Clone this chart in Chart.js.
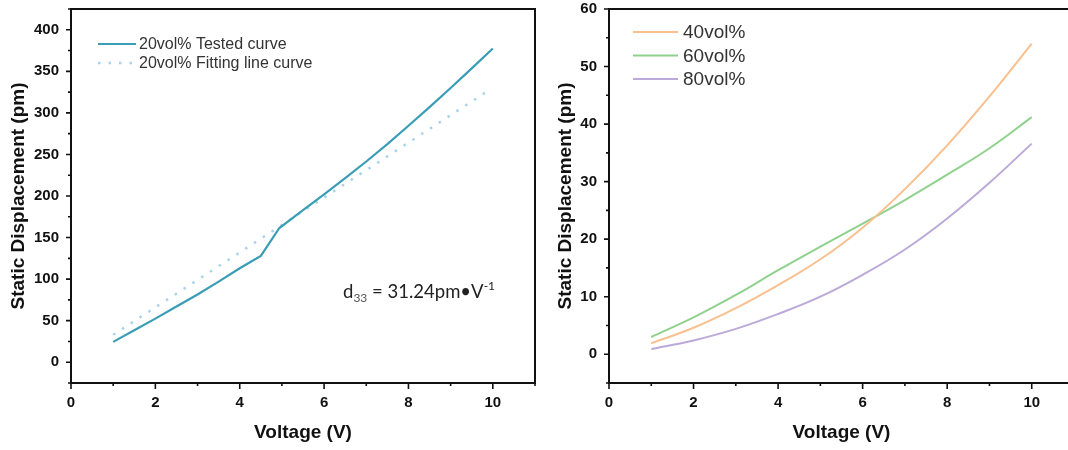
<!DOCTYPE html>
<html>
<head>
<meta charset="utf-8">
<script src="https://cdn.jsdelivr.net/npm/chart.js@4.4.1/dist/chart.umd.min.js"></script>
<style>
  html, body { margin: 0; padding: 0; background: #fff; overflow: hidden; width: 1068px; height: 450px; }
  .panel { position: absolute; top: 0; width: 540px; height: 450px; }
  #d33 { position: absolute; left: 343px; top: 280px; font-family: Lato, "Open Sans", sans-serif; font-size: 18.5px; color: #222; white-space: nowrap; line-height: 1; }
  #d33 sub { font-size: 12px; color: #555; vertical-align: -4px; }
  #d33 sup { font-size: 12px; vertical-align: 8px; }
</style>
</head>
<body>
<div class="panel" style="left:0"><canvas id="left" width="540" height="450"></canvas></div>
<div class="panel" style="left:540px"><canvas id="right" width="540" height="450"></canvas></div>
<div id="d33">d<sub>33</sub> = 31.24pm&bull;V<sup>-1</sup></div>
<script>
// left panel: 20vol%
var volt_20 = [1, 1.5, 2, 2.5, 3, 3.5, 4, 4.5, 4.94, 5.5, 6, 6.5, 7, 7.5, 8, 8.5, 9, 9.5, 10];
var tested_20 = [24.5, 38.5, 52.5, 67, 81.5, 97, 113, 128, 161.5, 183, 202, 221.5, 241.5, 262.5, 284.5, 307, 330, 353.5, 377.5];
var fit_volt = [1, 9.9];
var fit_20 = [33, 327];

// right panel: 40/60/80vol%
var volt = [1, 2, 3, 4, 5, 6, 7, 8, 9, 10];
var vol_40 = [1.9, 4.6, 8, 12, 16.5, 22, 28.7, 36.3, 44.8, 54];
var vol_60 = [3, 6.4, 10.3, 14.6, 18.7, 22.7, 26.8, 31.2, 35.8, 41.2];
var vol_80 = [0.9, 2.4, 4.4, 7, 10, 13.8, 18.2, 23.6, 29.8, 36.6];

var FONT = "'Liberation Sans', Arial, sans-serif";

function pts(xs, ys) {
  return xs.map(function(v, i) { return {x: v, y: ys[i]}; });
}

// box round the plot area plus major/minor tick marks
var frame = {
  id: 'frame',
  afterDraw: function(chart) {
    var ctx = chart.ctx, a = chart.chartArea;
    var x = chart.scales.x, y = chart.scales.y;
    var ystep = chart.options.scales.y.ticks.stepSize;
    ctx.save();
    ctx.strokeStyle = '#111';
    ctx.lineWidth = 2;
    ctx.strokeRect(a.left, a.top, a.right - a.left, a.bottom - a.top);
    ctx.lineWidth = 1.6;
    ctx.beginPath();
    x.ticks.forEach(function(t) {
      var px = x.getPixelForValue(t.value);
      var len = t.value % 2 === 0 ? 6 : 3;
      ctx.moveTo(px, a.bottom);
      ctx.lineTo(px, a.bottom + len);
    });
    y.ticks.forEach(function(t) {
      var py = y.getPixelForValue(t.value);
      var len = t.value % (2 * ystep) === 0 ? 5 : 3;
      ctx.moveTo(a.left, py);
      ctx.lineTo(a.left - len, py);
    });
    ctx.stroke();
    ctx.restore();
  }
};

// legend drawn inside the plot area
var inlineLegend = {
  id: 'inlineLegend',
  afterDatasetsDraw: function(chart, args, o) {
    var ctx = chart.ctx;
    ctx.save();
    ctx.font = o.font;
    ctx.textBaseline = 'middle';
    ctx.fillStyle = '#333';
    chart.data.datasets.forEach(function(ds, i) {
      var yy = o.y + i * o.row;
      ctx.strokeStyle = ds.borderColor;
      ctx.lineWidth = ds.borderWidth;
      ctx.setLineDash(ds.borderDash || []);
      ctx.beginPath();
      ctx.moveTo(o.x, yy);
      ctx.lineTo(o.x + o.len, yy);
      ctx.stroke();
      ctx.setLineDash([]);
      ctx.fillText(ds.label, o.x + o.len + o.gap, yy + 1);
    });
    ctx.restore();
  }
};

function makeOptions(ymin, ymax, ystep, axisW, padRight, titlePad, legend) {
  return {
    responsive: false,
    animation: false,
    events: [],
    layout: { padding: { top: 9, right: padRight, left: 0, bottom: 0 } },
    elements: { point: { radius: 0 } },
    plugins: {
      legend: { display: false },
      tooltip: { enabled: false },
      inlineLegend: legend
    },
    scales: {
      x: {
        type: 'linear', min: 0, max: 11,
        grid: { display: false, drawTicks: false },
        border: { display: false },
        afterFit: function(s) { s.height = 67; s.paddingLeft = 0; s.paddingRight = 0; },
        ticks: {
          stepSize: 1, includeBounds: false, autoSkip: false, maxTicksLimit: 100, padding: 11, color: '#111', maxRotation: 0,
          font: { family: FONT, size: 15, weight: 'bold' },
          callback: function(v) { return v % 2 === 0 && v <= 10 ? String(v) : ''; }
        },
        title: {
          display: true, text: 'Voltage (V)', color: '#111',
          font: { family: FONT, size: 19, weight: 'bold' },
          padding: { top: 0, bottom: 6 }
        }
      },
      y: {
        type: 'linear', min: ymin, max: ymax,
        grid: { display: false, drawTicks: false },
        border: { display: false },
        afterFit: function(s) { s.width = axisW; s.paddingTop = 0; s.paddingBottom = 0; },
        ticks: {
          stepSize: ystep, includeBounds: false, autoSkip: false, maxTicksLimit: 100, padding: 12, color: '#111',
          font: { family: FONT, size: 15, weight: 'bold' },
          callback: function(v) { return v % (2 * ystep) === 0 && v >= 0 ? String(v) : ''; }
        },
        title: {
          display: true, text: 'Static Displacement (pm)', color: '#111',
          font: { family: FONT, size: 19, weight: 'bold' },
          padding: { top: titlePad, bottom: 0 }
        }
      }
    }
  };
}

new Chart(document.getElementById('left'), {
  type: 'line',
  data: {
    datasets: [
      { label: '20vol% Tested curve', data: pts(volt_20, tested_20), borderColor: '#3a9db6', borderWidth: 2.2, tension: 0, fill: false },
      { label: '20vol% Fitting line curve', data: pts(fit_volt, fit_20), borderColor: '#a8d3e8', borderWidth: 2.5, borderDash: [2.5, 8], tension: 0, fill: false }
    ]
  },
  options: makeOptions(-25, 425, 25, 71, 5, 7, { x: 98, len: 38, gap: 3, y: 44, row: 19, font: '16px ' + FONT }),
  plugins: [frame, inlineLegend]
});

new Chart(document.getElementById('right'), {
  type: 'line',
  data: {
    datasets: [
      { label: '40vol%', data: pts(volt, vol_40), borderColor: '#f9c08f', borderWidth: 2, tension: 0.4, fill: false },
      { label: '60vol%', data: pts(volt, vol_60), borderColor: '#90d18e', borderWidth: 2, tension: 0.4, fill: false },
      { label: '80vol%', data: pts(volt, vol_80), borderColor: '#bbaad9', borderWidth: 2, tension: 0.4, fill: false }
    ]
  },
  options: makeOptions(-5, 60, 5, 69, 6, 14, { x: 93, len: 45, gap: 5, y: 32, row: 23.5, font: '19px ' + FONT }),
  plugins: [frame, inlineLegend]
});
</script>
</body>
</html>
